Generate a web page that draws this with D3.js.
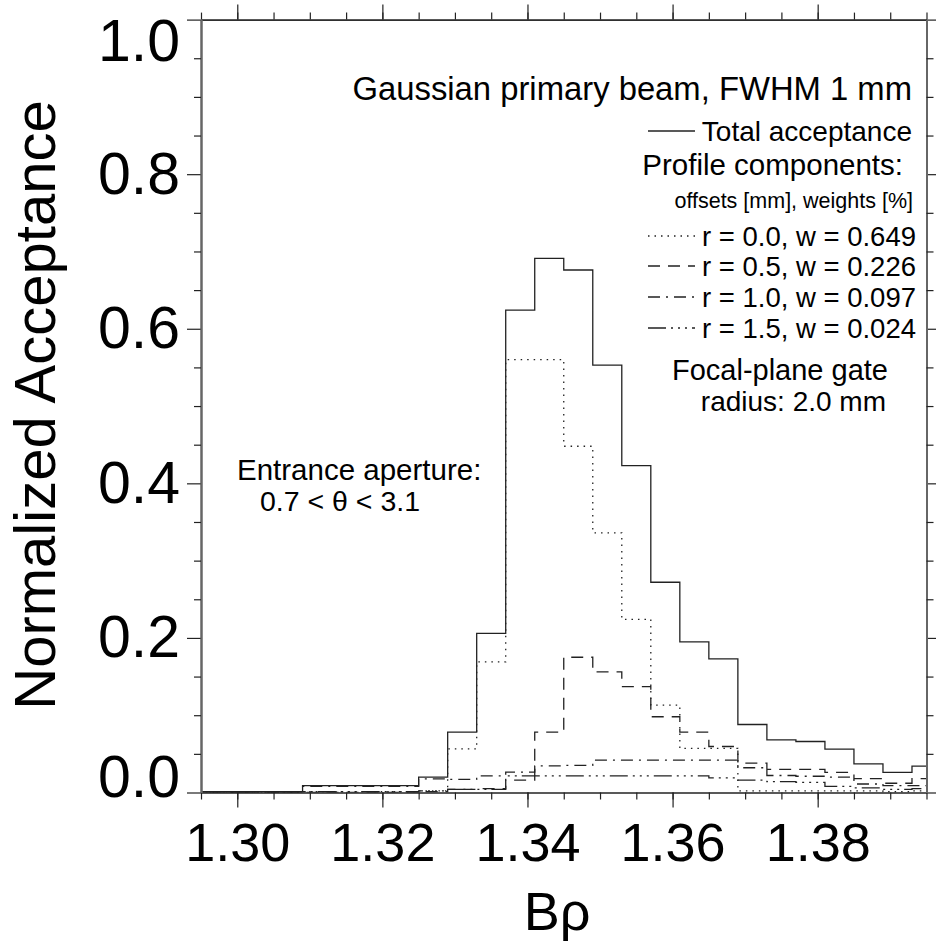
<!DOCTYPE html>
<html>
<head>
<meta charset="utf-8">
<script src="https://cdn.jsdelivr.net/npm/d3@7"></script>
<style>
  body { margin: 0; background: #fff; }
  svg text { font-family: "Liberation Sans", Arial, Helvetica, sans-serif; fill: #000; }
</style>
</head>
<body>
<svg id="chart" width="936" height="949"></svg>
<script>
// ---- data ----
const binEdges = [1.293, 1.297, 1.301, 1.305, 1.309, 1.313, 1.317, 1.321, 1.325, 1.329, 1.333,
  1.337, 1.341, 1.345, 1.349, 1.353, 1.357, 1.361, 1.365, 1.369, 1.373, 1.377, 1.381, 1.385,
  1.389, 1.393, 1.397];
const totalAcceptance = [0.001, 0.001, 0.001, 0.001, 0.009, 0.009, 0.009, 0.009, 0.020, 0.078, 0.206,
  0.624, 0.691, 0.676, 0.553, 0.423, 0.272, 0.195, 0.173, 0.088, 0.068, 0.066, 0.056, 0.037, 0.026, 0.034];
const compR00 = [0, 0, 0, 0, 0.001, 0.001, 0.001, 0.001, 0.002, 0.0565, 0.169,
  0.560, 0.560, 0.448, 0.336, 0.224, 0.113, 0.057, 0.057, 0.002, 0.002, 0.002, 0.002, 0.002, 0.001, 0.002];
const compR05 = [0, 0, 0, 0, 0, 0, 0, 0, 0.001, 0.004, 0.005,
  0.016, 0.078, 0.175, 0.156, 0.137, 0.098, 0.078, 0.0595, 0.038, 0.030, 0.030, 0.026, 0.018, 0.012, 0.018];
const compR10 = [0, 0, 0, 0, 0.008, 0.008, 0.008, 0.008, 0.0177, 0.017, 0.0216,
  0.0264, 0.0345, 0.035, 0.042, 0.042, 0.042, 0.042, 0.042, 0.032, 0.022, 0.021, 0.020, 0.011, 0.009, 0.009];
const compR15 = [0, 0, 0, 0, 0.001, 0.001, 0.001, 0.001, 0.002, 0.004, 0.004,
  0.0216, 0.0216, 0.0216, 0.0216, 0.0216, 0.0216, 0.0216, 0.019, 0.016, 0.014, 0.013, 0.008, 0.006, 0.004, 0.005];

const xMajorTicks = [1.30, 1.32, 1.34, 1.36, 1.38];
const xMinorTicks = [1.295, 1.300, 1.305, 1.310, 1.315, 1.320, 1.325, 1.330, 1.335, 1.340, 1.345, 1.350,
  1.355, 1.360, 1.365, 1.370, 1.375, 1.380, 1.385, 1.390, 1.395];
const yMajorTicks = [0.0, 0.2, 0.4, 0.6, 0.8, 1.0];
const yMinorTicks = [0.05, 0.10, 0.15, 0.25, 0.30, 0.35, 0.45, 0.50, 0.55, 0.65, 0.70, 0.75, 0.85, 0.90, 0.95];

const seriesNames = ["r = 0.0, w = 0.649", "r = 0.5, w = 0.226", "r = 1.0, w = 0.097", "r = 1.5, w = 0.024"];

// ---- layout ----
const svg = d3.select("#chart");
const L = 201, R = 926.5, T = 19.6, B = 792.5;
const x = d3.scaleLinear().domain([1.295, 1.395]).range([L, R]);
const y = d3.scaleLinear().domain([0, 1]).range([B, T]);

svg.append("defs").append("clipPath").attr("id", "plotclip")
  .append("rect").attr("x", L).attr("y", T - 2).attr("width", R - L).attr("height", B - T + 2);

const styles = [
  { values: totalAcceptance, dash: null },
  { values: compR00, dash: "1.5,5" },
  { values: compR05, dash: "12,8" },
  { values: compR10, dash: "12,6,2,6" },
  { values: compR15, dash: "18,5,2,5,2,5,2,5" }
];

const line = d3.line().x(d => x(d[0])).y(d => y(d[1])).curve(d3.curveStepAfter);
const plotG = svg.append("g").attr("clip-path", "url(#plotclip)");
styles.slice().reverse().forEach(s => {
  const pts = s.values.map((v, i) => [binEdges[i], v]);
  pts.push([binEdges[binEdges.length - 1], s.values[s.values.length - 1]]);
  plotG.append("path").attr("d", line(pts))
    .attr("fill", "none").attr("stroke", "#222").attr("stroke-width", 1.3)
    .attr("stroke-dasharray", s.dash);
});

// ---- axes ----
function styleAxis(g, color, width) {
  g.select(".domain").attr("stroke", color).attr("stroke-width", width);
  g.selectAll(".tick line").attr("stroke", "#222").attr("stroke-width", 1.2);
}
// bottom
const gB = svg.append("g").attr("transform", `translate(0,${B})`)
  .call(d3.axisBottom(x).tickValues(xMajorTicks).tickSize(15).tickPadding(15).tickFormat(d3.format(".2f")).tickSizeOuter(0));
styleAxis(gB, "#222", 1.2);
gB.selectAll("text").attr("font-size", 54).attr("font-family", "Liberation Sans, Arial, sans-serif");
svg.append("g").attr("transform", `translate(0,${B})`)
  .call(d3.axisBottom(x).tickValues(xMinorTicks).tickSize(7).tickFormat("").tickSizeOuter(0))
  .call(g => styleAxis(g, "#222", 1.2));
// top
const gT = svg.append("g").attr("transform", `translate(0,${T})`)
  .call(d3.axisTop(x).tickValues(xMajorTicks).tickSize(15).tickFormat("").tickSizeOuter(0));
styleAxis(gT, "#222", 1.2);
svg.append("g").attr("transform", `translate(0,${T})`)
  .call(d3.axisTop(x).tickValues(xMinorTicks).tickSize(7).tickFormat("").tickSizeOuter(0))
  .call(g => styleAxis(g, "#222", 1.2));
// left
const gL = svg.append("g").attr("transform", `translate(${L},0)`)
  .call(d3.axisLeft(y).tickValues(yMajorTicks).tickSize(14).tickPadding(7).tickFormat(d3.format(".1f")).tickSizeOuter(0));
styleAxis(gL, "#666", 2);
gL.selectAll("text").attr("font-size", 59).attr("font-family", "Liberation Sans, Arial, sans-serif")
  .attr("y", d => d === 1 ? 22 : (d === 0 ? -15 : 0));
svg.append("g").attr("transform", `translate(${L},0)`)
  .call(d3.axisLeft(y).tickValues(yMinorTicks).tickSize(7).tickFormat("").tickSizeOuter(0))
  .call(g => styleAxis(g, "#666", 2));
// right
svg.append("g").attr("transform", `translate(${R},0)`)
  .call(d3.axisRight(y).tickValues(yMajorTicks).tickSize(10).tickFormat("").tickSizeOuter(0))
  .call(g => styleAxis(g, "#666", 2));
svg.append("g").attr("transform", `translate(${R},0)`)
  .call(d3.axisRight(y).tickValues(yMinorTicks).tickSize(7).tickFormat("").tickSizeOuter(0))
  .call(g => styleAxis(g, "#666", 2));

// axis titles
svg.append("text").attr("transform", "translate(55,405) rotate(-90)")
  .attr("text-anchor", "middle").attr("font-size", 58).text("Normalized Acceptance");
svg.append("text").attr("x", 557).attr("y", 930)
  .attr("text-anchor", "middle").attr("font-size", 54).text("Bρ");

// ---- annotations / legend ----
const ann = svg.append("g");
function txt(xp, yp, s, size, anchor) {
  return ann.append("text").attr("x", xp).attr("y", yp).attr("font-size", size)
    .attr("text-anchor", anchor || "end").text(s);
}
txt(912, 100, "Gaussian primary beam, FWHM 1 mm", 32.8);
txt(912, 141, "Total acceptance", 28);
txt(903, 175, "Profile components:", 29.5);
txt(913, 208, "offsets [mm], weights [%]", 21.5);
const legY = [246, 276, 307, 338];
seriesNames.forEach((n, i) => txt(916, legY[i], n, 27.5));
txt(888, 380, "Focal-plane gate", 29);
txt(886, 411, "radius: 2.0 mm", 28);
txt(237, 480, "Entrance aperture:", 29.5, "start");
txt(260, 511, "0.7 < θ < 3.1", 28.5, "start");

// legend line samples
const sampleY = [131, 236, 266, 297, 328];
styles.forEach((s, i) => {
  ann.append("line").attr("x1", 648).attr("x2", 695).attr("y1", sampleY[i]).attr("y2", sampleY[i])
    .attr("stroke", "#222").attr("stroke-width", 1.3).attr("stroke-dasharray", s.dash);
});
</script>
</body>
</html>
